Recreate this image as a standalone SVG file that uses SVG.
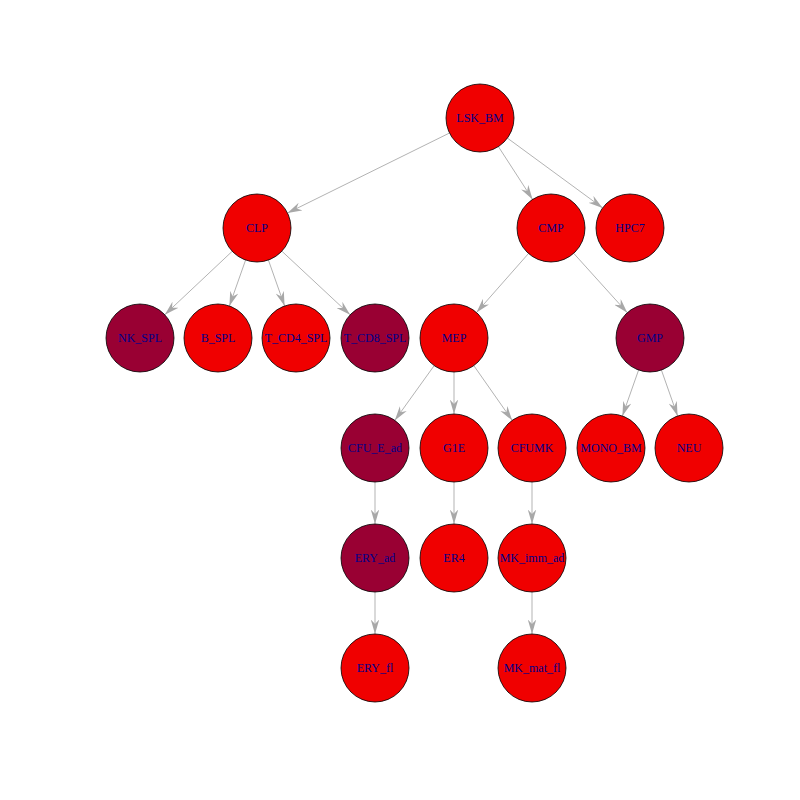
<svg xmlns="http://www.w3.org/2000/svg" width="800" height="800" viewBox="0 0 800 800">
<style>
.n circle{stroke:#000;stroke-width:0.8}
.r{fill:#F00000}
.d{fill:#990033}
.n text{font-family:"Liberation Serif","Times New Roman",serif;font-size:12px;fill:#00008B;text-anchor:middle;dominant-baseline:central}
#edges line{stroke:#B3B3B3;stroke-width:1;fill:none}
</style>
<defs>
<marker id="ah" markerUnits="userSpaceOnUse" markerWidth="15" markerHeight="9" refX="14.5" refY="4.25" orient="auto" viewBox="0 0 15 8.5">
<path d="M0,0 L14.5,4.25 L0,8.5 L4.5,4.25 Z" fill="#A8A8A8"/>
</marker>
</defs>
<rect width="800" height="800" fill="#fff"/>
<g id="edges">
<line x1="449.5" y1="133.0" x2="287.5" y2="213.0" marker-end="url(#ah)"/>
<line x1="498.4" y1="146.6" x2="532.6" y2="199.4" marker-end="url(#ah)"/>
<line x1="507.4" y1="138.1" x2="602.6" y2="207.9" marker-end="url(#ah)"/>
<line x1="232.2" y1="251.3" x2="164.8" y2="314.7" marker-end="url(#ah)"/>
<line x1="245.6" y1="260.0" x2="229.4" y2="306.0" marker-end="url(#ah)"/>
<line x1="268.4" y1="260.0" x2="284.6" y2="306.0" marker-end="url(#ah)"/>
<line x1="281.9" y1="251.2" x2="350.1" y2="314.8" marker-end="url(#ah)"/>
<line x1="528.5" y1="253.5" x2="476.5" y2="312.5" marker-end="url(#ah)"/>
<line x1="573.7" y1="253.3" x2="627.3" y2="312.7" marker-end="url(#ah)"/>
<line x1="434.2" y1="365.6" x2="394.8" y2="420.4" marker-end="url(#ah)"/>
<line x1="454" y1="372" x2="454" y2="414" marker-end="url(#ah)"/>
<line x1="473.8" y1="365.6" x2="512.2" y2="420.4" marker-end="url(#ah)"/>
<line x1="638.6" y1="370.0" x2="622.4" y2="416.0" marker-end="url(#ah)"/>
<line x1="661.4" y1="370.0" x2="677.6" y2="416.0" marker-end="url(#ah)"/>
<line x1="375" y1="482" x2="375" y2="524" marker-end="url(#ah)"/>
<line x1="454" y1="482" x2="454" y2="524" marker-end="url(#ah)"/>
<line x1="532" y1="482" x2="532" y2="524" marker-end="url(#ah)"/>
<line x1="375" y1="592" x2="375" y2="634" marker-end="url(#ah)"/>
<line x1="532" y1="592" x2="532" y2="634" marker-end="url(#ah)"/>
</g>
<g id="LSK_BM" class="n"><circle class="r" cx="480" cy="118" r="34"/><text x="480" y="118">LSK_BM</text></g>
<g id="CLP" class="n"><circle class="r" cx="257" cy="228" r="34"/><text x="257" y="228">CLP</text></g>
<g id="CMP" class="n"><circle class="r" cx="551" cy="228" r="34"/><text x="551" y="228">CMP</text></g>
<g id="HPC7" class="n"><circle class="r" cx="630" cy="228" r="34"/><text x="630" y="228">HPC7</text></g>
<g id="NK_SPL" class="n"><circle class="d" cx="140" cy="338" r="34"/><text x="140" y="338">NK_SPL</text></g>
<g id="B_SPL" class="n"><circle class="r" cx="218" cy="338" r="34"/><text x="218" y="338">B_SPL</text></g>
<g id="T_CD4_SPL" class="n"><circle class="r" cx="296" cy="338" r="34"/><text x="296" y="338">T_CD4_SPL</text></g>
<g id="T_CD8_SPL" class="n"><circle class="d" cx="375" cy="338" r="34"/><text x="375" y="338">T_CD8_SPL</text></g>
<g id="MEP" class="n"><circle class="r" cx="454" cy="338" r="34"/><text x="454" y="338">MEP</text></g>
<g id="GMP" class="n"><circle class="d" cx="650" cy="338" r="34"/><text x="650" y="338">GMP</text></g>
<g id="CFU_E_ad" class="n"><circle class="d" cx="375" cy="448" r="34"/><text x="375" y="448">CFU_E_ad</text></g>
<g id="G1E" class="n"><circle class="r" cx="454" cy="448" r="34"/><text x="454" y="448">G1E</text></g>
<g id="CFUMK" class="n"><circle class="r" cx="532" cy="448" r="34"/><text x="532" y="448">CFUMK</text></g>
<g id="MONO_BM" class="n"><circle class="r" cx="611" cy="448" r="34"/><text x="611" y="448">MONO_BM</text></g>
<g id="NEU" class="n"><circle class="r" cx="689" cy="448" r="34"/><text x="689" y="448">NEU</text></g>
<g id="ERY_ad" class="n"><circle class="d" cx="375" cy="558" r="34"/><text x="375" y="558">ERY_ad</text></g>
<g id="ER4" class="n"><circle class="r" cx="454" cy="558" r="34"/><text x="454" y="558">ER4</text></g>
<g id="MK_imm_ad" class="n"><circle class="r" cx="532" cy="558" r="34"/><text x="532" y="558">MK_imm_ad</text></g>
<g id="ERY_fl" class="n"><circle class="r" cx="375" cy="668" r="34"/><text x="375" y="668">ERY_fl</text></g>
<g id="MK_mat_fl" class="n"><circle class="r" cx="532" cy="668" r="34"/><text x="532" y="668">MK_mat_fl</text></g>
</svg>
